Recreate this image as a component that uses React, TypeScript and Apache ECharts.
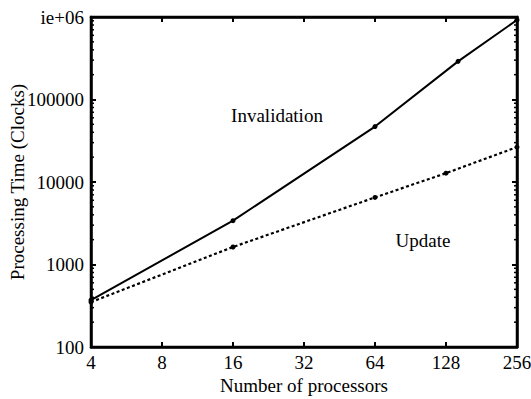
import React, { useEffect, useRef } from "react";
import * as echarts from "echarts";

const processors = [4, 16, 64, 128, 256];
const invalidationX = [4, 16, 64, 144, 256];
const invalidation = [370, 3400, 47000, 290000, 920000];
const update = [350, 1630, 6500, 12800, 26500];
const yTicks = [100, 1000, 10000, 100000, 1000000];
const yTickLabels = ["100", "1000", "10000", "100000", "ie+06"];
const minorMultipliers = [2, 3, 4, 5, 6, 7, 8, 9];

const FONT = "Liberation Serif";

export default function App() {
  const ref = useRef<HTMLDivElement>(null);
  useEffect(() => {
    if (!ref.current) return;
    const chart = echarts.init(ref.current, null, { renderer: "svg" });
    const minorVals: number[] = [];
    for (let i = 0; i < yTicks.length - 1; i++) {
      for (const m of minorMultipliers) minorVals.push(yTicks[i] * m);
    }
    const minorData = minorVals.map((v) => [4, v]);
    const labelFor = (v: number) => {
      const idx = yTicks.findIndex((t) => Math.abs(t - v) / t < 1e-6);
      return idx >= 0 ? yTickLabels[idx] : "";
    };
    const axisLine = { show: true, lineStyle: { color: "#000", width: 2.5 } };
    const axisTick = { show: true, inside: true, length: 5, lineStyle: { color: "#000", width: 2 } };
    chart.setOption({
      animation: false,
      backgroundColor: "#fff",
      grid: {
        left: 91,
        right: 14,
        top: 17,
        bottom: 52,
        show: true,
        borderColor: "#000",
        borderWidth: 2.5,
        containLabel: false,
        outerBoundsMode: "none",
      },
      xAxis: [
        {
          type: "log",
          logBase: 2,
          min: 4,
          max: 256,
          interval: 1,
          name: "Number of processors",
          nameLocation: "middle",
          nameGap: 29,
          nameMoveOverlap: false,
          nameTextStyle: { fontFamily: FONT, fontSize: 19, color: "#000" },
          axisLine,
          axisTick,
          axisLabel: {
            fontFamily: FONT,
            fontSize: 19,
            color: "#000",
            margin: 6,
            formatter: (v: number) => String(Math.round(v)),
          },
          splitLine: { show: false },
        },
        {
          type: "log",
          logBase: 2,
          min: 4,
          max: 256,
          interval: 1,
          position: "top",
          axisLine,
          axisTick,
          axisLabel: { show: false },
          splitLine: { show: false },
        },
      ],
      yAxis: [
        {
          type: "log",
          logBase: 10,
          min: 100,
          max: 1000000,
          interval: 1,
          name: "Processing Time (Clocks)",
          nameLocation: "middle",
          nameGap: 64,
          nameMoveOverlap: false,
          nameRotate: 90,
          nameTextStyle: { fontFamily: FONT, fontSize: 19, color: "#000" },
          axisLine,
          axisTick,
          axisLabel: {
            fontFamily: FONT,
            fontSize: 19,
            color: "#000",
            margin: 7,
            formatter: (v: number) => labelFor(v),
          },
          splitLine: { show: false },
        },
        {
          type: "log",
          logBase: 10,
          min: 100,
          max: 1000000,
          interval: 1,
          position: "right",
          axisLine,
          axisTick,
          axisLabel: { show: false },
          splitLine: { show: false },
        },
      ],
      series: [
        {
          name: "Invalidation",
          type: "line",
          data: invalidationX.map((x, i) => [x, invalidation[i]]),
          lineStyle: { color: "#000", width: 2, type: "solid" },
          itemStyle: { color: "#000" },
          symbol: "circle",
          symbolSize: 5,
          z: 3,
        },
        {
          name: "Update",
          type: "line",
          data: processors.map((x, i) => [x, update[i]]),
          lineStyle: { color: "#000", width: 2.2, type: [3, 2.5] },
          itemStyle: { color: "#000" },
          symbol: "circle",
          symbolSize: 5,
          z: 3,
        },
        {
          type: "custom",
          silent: true,
          clip: false,
          data: minorData,
          renderItem: (params: any, api: any) => {
            const y = api.coord([4, api.value(1)])[1];
            const left = params.coordSys.x;
            const right = params.coordSys.x + params.coordSys.width;
            return {
              type: "group",
              children: [
                { type: "line", shape: { x1: left, y1: y, x2: left + 3, y2: y }, style: { stroke: "#000", lineWidth: 1.5 } },
                { type: "line", shape: { x1: right - 3, y1: y, x2: right, y2: y }, style: { stroke: "#000", lineWidth: 1.5 } },
              ],
            };
          },
        },
      ],
      graphic: [
        {
          type: "text",
          x: 277,
          y: 115,
          style: { text: "Invalidation", font: `19px "${FONT}"`, fill: "#000", align: "center", verticalAlign: "middle" },
        },
        {
          type: "text",
          x: 423,
          y: 240,
          style: { text: "Update", font: `19px "${FONT}"`, fill: "#000", align: "center", verticalAlign: "middle" },
        },
      ],
    });
    return () => chart.dispose();
  }, []);
  return <div ref={ref} style={{ width: 531, height: 399, position: "absolute", left: 0, top: 0 }} />;
}
